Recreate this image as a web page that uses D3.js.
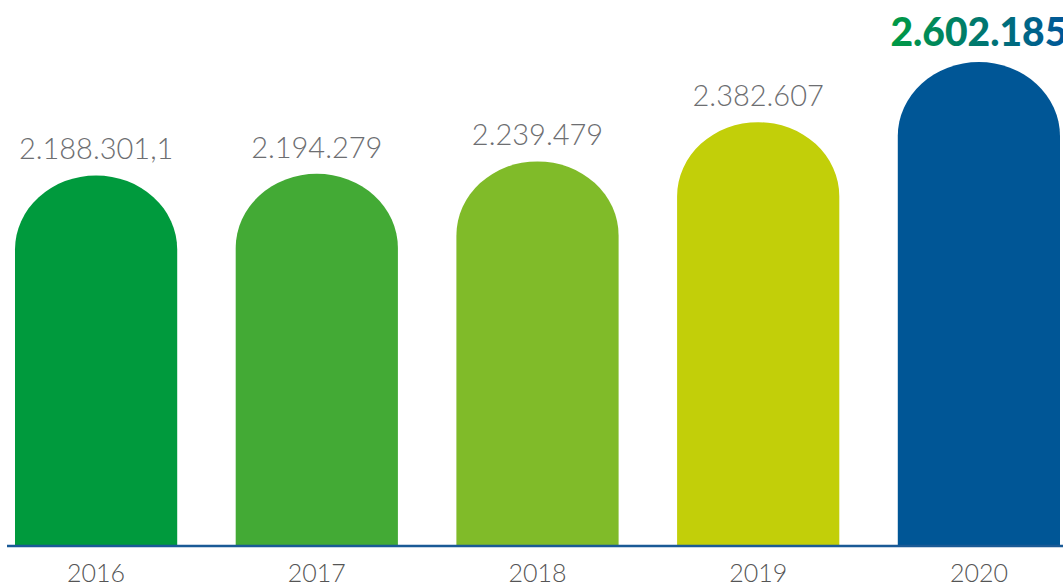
<!DOCTYPE html>
<html>
<head>
<meta charset="utf-8">
<script src="https://cdn.jsdelivr.net/npm/d3@7"></script>
<style>
  html, body { margin: 0; padding: 0; background: #fff; }
  svg { display: block; }
</style>
</head>
<body>
<svg id="chart" width="1063" height="586"></svg>
<script>
const years = ["2016", "2017", "2018", "2019", "2020"];
const values = [2188301.1, 2194279, 2239479, 2382607, 2602185];
const valueLabels = ["2.188.301,1", "2.194.279", "2.239.479", "2.382.607", "2.602.185"];
const barColors = ["#009a3d", "#43aa35", "#80bb29", "#c2cf09", "#005696"];

const W = 1063, H = 586;
const baseY = 546;
const svg = d3.select("#chart");

const x = d3.scaleBand().domain(years).range([15, 1060]).paddingInner(0.265).paddingOuter(0);
const y = d3.scaleLinear().domain([836800, 2602185]).range([baseY, 62]);

const defs = svg.append("defs");
const grad = defs.append("linearGradient").attr("id", "lastGrad")
  .attr("x1", "0%").attr("x2", "100%").attr("y1", "0%").attr("y2", "0%");
grad.append("stop").attr("offset", "0%").attr("stop-color", "#009a44");
grad.append("stop").attr("offset", "100%").attr("stop-color", "#00569a");

const capH = 74;
function barPath(x0, w, top, bottom) {
  const rx = w / 2;
  const ry = Math.min(capH, bottom - top);
  return `M${x0},${bottom} L${x0},${top + ry} A${rx},${ry} 0 0 1 ${x0 + w},${top + ry} L${x0 + w},${bottom} Z`;
}

const data = years.map((yr, i) => ({ yr, v: values[i], label: valueLabels[i], color: barColors[i], i }));

svg.append("g").selectAll("path").data(data).join("path")
  .attr("d", d => barPath(x(d.yr), x.bandwidth(), y(d.v), baseY))
  .attr("fill", d => d.color);

// baseline
svg.append("line")
  .attr("x1", 7).attr("x2", W).attr("y1", baseY).attr("y2", baseY)
  .attr("stroke", "#1a5a96").attr("stroke-width", 2.5);

// year labels
svg.append("g").selectAll("text").data(data).join("text")
  .attr("x", d => x(d.yr) + x.bandwidth() / 2)
  .attr("y", 582)
  .attr("text-anchor", "middle")
  .attr("font-family", "Lato, 'Open Sans', sans-serif")
  .attr("font-weight", 300)
  .attr("font-size", 25)
  .attr("fill", "#555555")
  .text(d => d.yr);

// value labels
svg.append("g").selectAll("text").data(data).join("text")
  .attr("x", d => x(d.yr) + x.bandwidth() / 2)
  .attr("y", d => y(d.v) - 16)
  .attr("text-anchor", "middle")
  .attr("font-family", "Lato, 'Open Sans', sans-serif")
  .attr("font-weight", d => d.i === data.length - 1 ? 900 : 300)
  .attr("font-size", d => d.i === data.length - 1 ? 39 : 29)
  .attr("fill", d => d.i === data.length - 1 ? "url(#lastGrad)" : "#6d6e71")
  .text(d => d.label);
</script>
</body>
</html>
